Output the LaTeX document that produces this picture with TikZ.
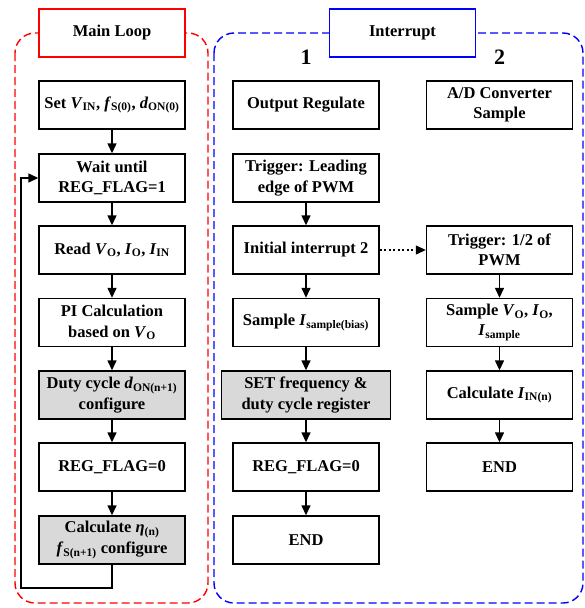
\documentclass[tikz,border=0pt]{standalone}
\usepackage{fontspec}
\setmainfont{Liberation Serif}
\usetikzlibrary{arrows.meta}
\newcommand{\vs}[2]{\textit{#1}\textsubscript{#2}}

\begin{document}
\begin{tikzpicture}[x=1pt,y=-1pt]
   \tikzset{Box/.style={draw,line width=1.4pt,minimum width=146pt,minimum height=48pt,align=center,inner sep=2pt,font=\bfseries\fontsize{16.5}{20.5}\selectfont}}
   \tikzset{Gray/.style={Box,fill=gray!30}}
   \tikzset{EdgeStyle/.style={line width=1.4pt,-{Triangle[length=10pt,width=9pt]}}}
   \tikzset{Frame/.style={line width=1.4pt,dash pattern=on 8pt off 4pt,rounded corners=20pt}}
   \useasboundingbox (0,0) rectangle (585,608);
   \draw[Frame,red] (15,33) rectangle (208,603);
   \draw[Frame,blue] (214,33) rectangle (583,603);
   \node[Box,draw=red,fill=white] (ML) at (112,33) {Main Loop};
   \node[Box,draw=blue,fill=white] (IR) at (402.5,33) {Interrupt};
   \node[font=\bfseries\fontsize{22}{24}\selectfont] (N1) at (306,57) {1};
   \node[font=\bfseries\fontsize{22}{24}\selectfont] (N2) at (499.5,57) {2};
   \node[Box] (M1) at (112,105) {Set \vs{V}{IN}, \vs{f}{S(0)}, \vs{d}{ON(0)}};
   \node[Box] (M2) at (112,178) {Wait until\\REG\_FLAG=1};
   \node[Box] (M3) at (112,250) {Read \vs{V}{O}, \vs{I}{O}, \vs{I}{IN}};
   \node[Box] (M4) at (112,322.5) {PI Calculation\\based on \vs{V}{O}};
   \node[Gray] (M5) at (112,395) {Duty cycle \vs{d}{ON(n+1)}\\configure};
   \node[Box] (M6) at (112,467) {REG\_FLAG=0};
   \node[Gray] (M7) at (112,540) {Calculate \vs{η}{(n)}\\\vs{f}{S(n+1)} configure};
   \node[Box] (A1) at (306,105) {Output Regulate};
   \node[Box] (A2) at (306,178) {Trigger: Leading\\edge of PWM};
   \node[Box] (A3) at (306,250) {Initial interrupt 2};
   \node[Box] (A4) at (306,322.5) {Sample \vs{I}{sample(bias)}};
   \node[Gray,minimum width=169pt] (A5) at (306,395) {SET frequency \&\\duty cycle register};
   \node[Box] (A6) at (306,467) {REG\_FLAG=0};
   \node[Box] (A7) at (306,540) {END};
   \node[Box] (B1) at (499.5,105) {A/D Converter\\Sample};
   \node[Box] (B2) at (499.5,250) {Trigger: 1/2 of\\PWM};
   \node[Box] (B3) at (499.5,322.5) {Sample \vs{V}{O}, \vs{I}{O},\\\vs{I}{sample}};
   \node[Box] (B4) at (499.5,395) {Calculate \vs{I}{IN(n)}};
   \node[Box] (B5) at (499.5,467) {END};
   \coordinate (L) at (21,588);
   \draw[EdgeStyle] (M1) -- (M2);
   \draw[EdgeStyle] (M2) -- (M3);
   \draw[EdgeStyle] (M3) -- (M4);
   \draw[EdgeStyle] (M4) -- (M5);
   \draw[EdgeStyle] (M5) -- (M6);
   \draw[EdgeStyle] (M6) -- (M7);
   \draw[EdgeStyle] (M7.south) |- (L) |- (M2.west);
   \draw[EdgeStyle] (A2) -- (A3);
   \draw[EdgeStyle] (A3) -- (A4);
   \draw[EdgeStyle] (A4) -- (A5);
   \draw[EdgeStyle] (A5) -- (A6);
   \draw[EdgeStyle] (A6) -- (A7);
   \draw[EdgeStyle,line width=1.2pt,dash pattern=on 2pt off 2.5pt] (A3) -- (B2);
   \draw[EdgeStyle] (B2) -- (B3);
   \draw[EdgeStyle] (B3) -- (B4);
   \draw[EdgeStyle] (B4) -- (B5);
\end{tikzpicture}
\end{document}
